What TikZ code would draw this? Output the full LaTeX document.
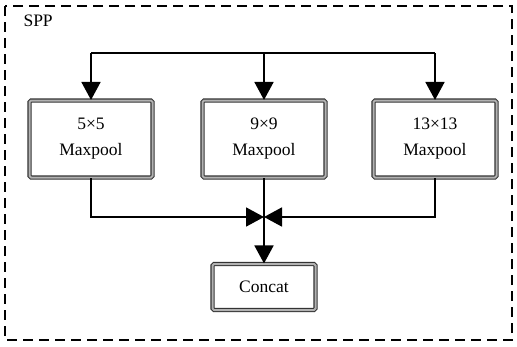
\documentclass[tikz,border=0pt]{standalone}
\usepackage{fontspec}
\setmainfont{Liberation Serif}
\usetikzlibrary{arrows.meta,positioning}

\begin{document}
\begin{tikzpicture}[
    x=1pt, y=-1pt,
    every node/.style={font=\fontsize{17.5}{26}\selectfont},
    pool/.style={draw=black!80, double=gray!60, double distance=2pt, line width=1.1pt,
      rounded corners=1.5pt, fill=white, align=center, minimum width=123pt, minimum height=77pt},
    cat/.style={pool, minimum width=103pt, minimum height=46pt},
    arr/.style={line width=1.8pt, -{Triangle[length=18pt, width=19pt]}},
    link/.style={line width=1.8pt}
  ]
  \useasboundingbox (0,0) rectangle (517,346);
  \draw[line width=1.4pt, dash pattern=on 10pt off 6pt] (5,6) rectangle (512,340);
  \node[anchor=west] (spp) at (20,21) {SPP};

  \node[pool] (p5) at (91,139) {5×5\\Maxpool};
  \node[pool] (p9) at (264,139) {9×9\\Maxpool};
  \node[pool] (p13) at (435,139) {13×13\\Maxpool};
  \node[cat] (concat) at (264,287) {Concat};

  \coordinate (t5) at (91,53);
  \coordinate (t9) at (264,53);
  \coordinate (t13) at (435,53);
  \coordinate (merge) at (264,217);

  \draw[link] (t5) -- (t13);
  \draw[arr] (t5) -- (p5);
  \draw[arr] (t9) -- (p9);
  \draw[arr] (t13) -- (p13);

  \draw[arr] (p5.south) |- (merge);
  \draw[arr] (p13.south) |- (merge);
  \draw[arr] (p9.south) -- (concat.north);
\end{tikzpicture}
\end{document}
